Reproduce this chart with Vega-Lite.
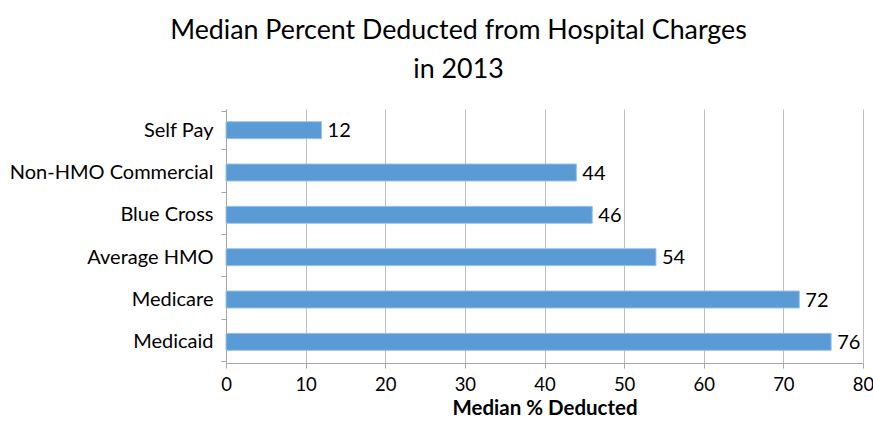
{
  "$schema": "https://vega.github.io/schema/vega-lite/v6.json",
  "width": 637,
  "height": 254,
  "autosize": "none",
  "padding": {"left": 226, "top": 109, "right": 10, "bottom": 59},
  "background": "white",
  "config": {
    "font": "Lato",
    "view": {"stroke": null}
  },
  "title": {
    "text": ["Median Percent Deducted from Hospital Charges", "in 2013"],
    "font": "Lato",
    "fontSize": 26.8,
    "fontWeight": "normal",
    "color": "#000000",
    "lineHeight": 39,
    "anchor": "middle",
    "frame": "group",
    "dx": -86,
    "offset": 15
  },
  "data": {
    "values": [
      {"category": "Self Pay", "value": 12},
      {"category": "Non-HMO Commercial", "value": 44},
      {"category": "Blue Cross", "value": 46},
      {"category": "Average HMO", "value": 54},
      {"category": "Medicare", "value": 72},
      {"category": "Medicaid", "value": 76}
    ]
  },
  "encoding": {
    "y": {
      "field": "category",
      "type": "nominal",
      "sort": null,
      "title": null,
      "axis": {
        "labelFont": "Lato",
        "labelFontSize": 20,
        "labelColor": "#000000",
        "labelPadding": 8,
        "tickBand": "extent",
        "tickSize": 5,
        "tickColor": "#A6A6A6",
        "domainColor": "#A6A6A6",
        "labelLimit": 300
      }
    },
    "x": {
      "field": "value",
      "type": "quantitative",
      "scale": {"domain": [0, 80], "nice": false},
      "title": "Median % Deducted",
      "axis": {
        "values": [0, 10, 20, 30, 40, 50, 60, 70, 80],
        "labelFlush": false,
        "labelFont": "Lato",
        "labelFontSize": 18.5,
        "labelColor": "#000000",
        "labelPadding": 7,
        "tickSize": 5,
        "tickColor": "#A6A6A6",
        "domainColor": "#A6A6A6",
        "gridColor": "#BFBFBF",
        "grid": true,
        "titleFont": "Lato",
        "titleFontSize": 20.5,
        "titleFontWeight": "bold",
        "titleColor": "#000000",
        "titlePadding": 5
      }
    }
  },
  "layer": [
    {
      "mark": {"type": "bar", "size": 17, "color": "#5B9BD5", "stroke": "#9DC3E6", "strokeWidth": 1}
    },
    {
      "mark": {"type": "text", "align": "left", "baseline": "middle", "dx": 6, "dy": 1, "fontSize": 20, "font": "Lato", "color": "#000000"},
      "encoding": {"text": {"field": "value", "type": "quantitative"}}
    }
  ]
}
